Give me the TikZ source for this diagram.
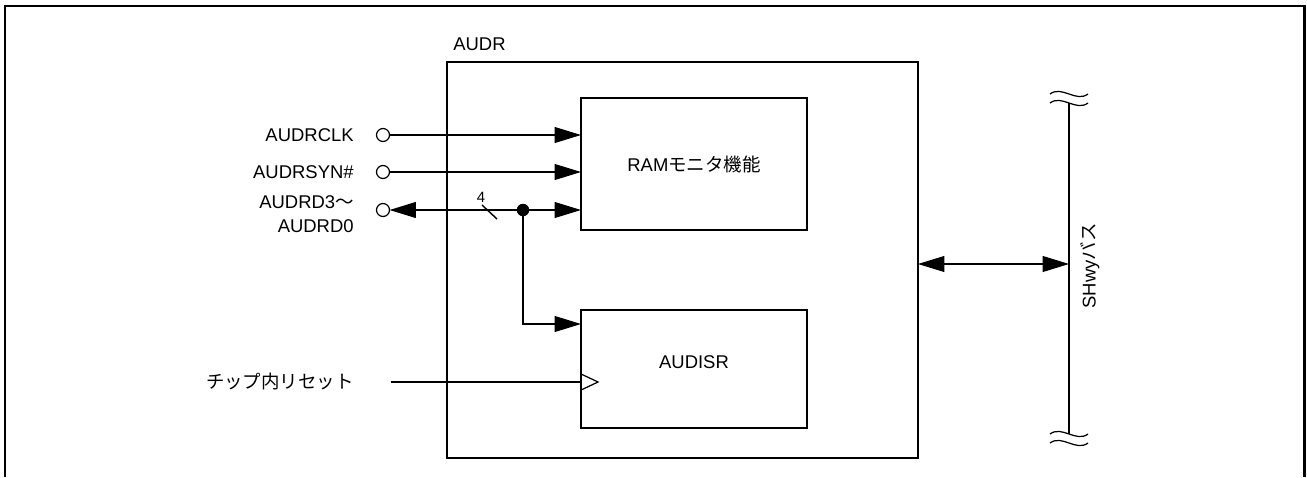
\documentclass[tikz,border=0pt]{standalone}
\usepackage{fontspec}
\setmainfont{Liberation Sans}
\newfontfamily\jp{Noto Sans CJK JP}
\usetikzlibrary{arrows.meta,positioning}

\begin{document}
\begin{tikzpicture}[
  x=0.02cm, y=-0.02cm,
  font=\fontsize{10.5}{12.5}\selectfont,
  blk/.style={
    draw,
    line width=1.1pt,
    inner sep=0pt,
    outer sep=0pt,
    align=center
  },
  pin/.style={circle,draw,line width=0.7pt,minimum size=0.26cm,inner sep=0pt,outer sep=0pt},
  dotnode/.style={circle,fill,minimum size=0.25cm,inner sep=0pt},
  sig/.style={line width=0.8pt},
  arrow/.style={-{Triangle[length=15pt,width=9pt]},line width=0.8pt},
  darrow/.style={{Triangle[length=15pt,width=9pt]}-{Triangle[length=15pt,width=9pt]},line width=0.8pt},
  lbl/.style={anchor=east,align=right,inner sep=0pt}
]
  \useasboundingbox (0,0) rectangle (1307,477);
  % outer frame
  \draw[line width=1.7pt] (5,477) -- (5,6) -- (1304,6) -- (1304,477);

  % blocks
  \node[blk,minimum width=9.42cm,minimum height=7.92cm] (audr) at (682.5,260) {};
  \node[anchor=south west,inner sep=0pt] (audrlbl) at (453,51) {AUDR};
  \node[blk,minimum width=4.52cm,minimum height=2.64cm] (ram) at (694,164) {RAM{\jp モニタ機能}};
  \node[blk,minimum width=4.52cm,minimum height=2.36cm] (audisr) at (694,369) {};
  \node (isrtxt) at (694,362) {AUDISR};

  % pins
  \node[pin] (clk) at (383,135) {};
  \node[pin] (syn) at (383,172) {};
  \node[pin] (dat) at (383,210) {};
  \node[lbl] (clklbl) at (354,135) {AUDRCLK};
  \node[lbl] (synlbl) at (354,172) {AUDRSYN\#};
  \node[lbl] (datlbl) at (354,214) {AUDRD3{\jp ～}\\[1pt]AUDRD0};
  \node[lbl] (rstlbl) at (354,382) {\jp チップ内リセット};

  \draw[arrow] (clk.east) -- (ram.west |- clk);
  \draw[arrow] (syn.east) -- (ram.west |- syn);
  \draw[darrow] (dat.east) -- (ram.west |- dat);
  \node[dotnode] (jn) at (523,210) {};
  \coordinate (br) at (581,324);
  \draw[arrow] (jn.center) |- (br);
  \node[font=\fontsize{8.5}{9}\selectfont,inner sep=0pt] (bw) at (481,197) {4};
  \draw[sig] (482,205) -- (497,219);

  % reset
  \coordinate (rst) at (391,382);
  \draw[sig] (rst) -- (audisr.west |- rst);
  \draw[line width=0.7pt] (audisr.west |- rst) ++(0,-8) -- ++(17,8) -- ++(-17,8);

  % bus
  \coordinate (bt) at (1069,103);
  \coordinate (bb) at (1069,434);
  \coordinate (bm) at (1069,264);
  \draw[line width=1.1pt] (bt) -- (bb);
  \foreach \yy in {94,103,434,443}
    \draw[line width=0.7pt] (1050,\yy) .. controls (1062,\yy-9) and (1076,\yy+9) .. (1088,\yy);
  \draw[darrow] (audr.east |- bm) -- (bm);
  \node[rotate=90] (buslbl) at (1090,266) {SHwy{\jp バス}};
\end{tikzpicture}
\end{document}
